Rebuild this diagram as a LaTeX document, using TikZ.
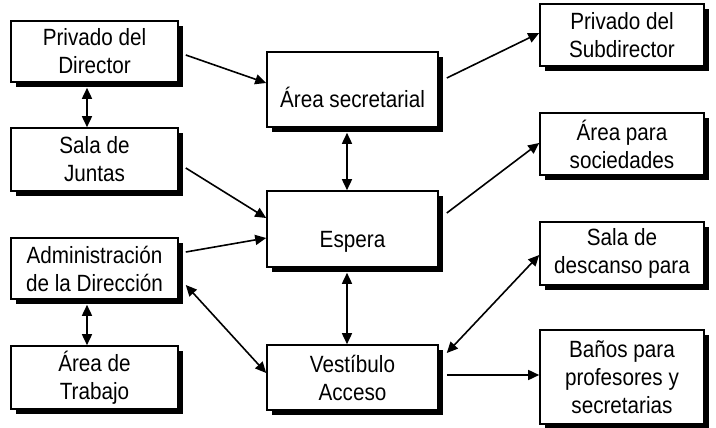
\documentclass[tikz,border=0pt]{standalone}
\usepackage{fontspec}
\setmainfont{Liberation Sans}[FakeStretch=0.88]
\usetikzlibrary{arrows.meta,shadows,calc}

\begin{document}
\begin{tikzpicture}[x=1pt,y=-1pt,
  room/.style={draw, line width=1.6pt, fill=white, rectangle, inner sep=0pt,
    align=center, font=\fontsize{23.5}{28}\selectfont,
    drop shadow={shadow xshift=5pt, shadow yshift=-5pt, fill=black, opacity=1}},
  col1/.style={room, minimum width=167pt},
  col2/.style={room, minimum width=171pt},
  col3/.style={room, minimum width=164pt},
  lowtext/.style={text height=37pt, text depth=0pt},
  tip/.tip={Triangle[length=11pt,width=10pt]},
  link/.style={line width=1.6pt, -tip},
  both/.style={line width=1.6pt, tip-tip}]

\useasboundingbox (0,0) rectangle (716,428);

% left column
\node[col1, minimum height=61pt] (pd) at (94.5,51.5) {Privado del\\Director};
\node[col1, minimum height=63pt] (sj) at (94.5,159.5) {Sala de\\Juntas};
\node[col1, minimum height=61pt] (ad) at (94.5,268.5) {Administración\\de la Dirección};
\node[col1, minimum height=63pt] (at) at (94.5,377.5) {Área de\\Trabajo};

% middle column
\node[col2, minimum height=75pt, lowtext] (as) at (352.5,89.5) {Área secretarial};
\node[col2, minimum height=76pt, lowtext] (es) at (352.5,229) {Espera};
\node[col2, minimum height=65pt] (vb) at (352.5,377.5) {Vestíbulo\\Acceso};

% right column
\node[col3, minimum height=62pt] (ps) at (622,35) {Privado del\\Subdirector};
\node[col3, minimum height=62pt] (ap) at (622,144) {Área para\\sociedades};
\node[col3, minimum height=63pt] (sd) at (622,253.5) {Sala de\\descanso para};
\node[col3, minimum height=94pt] (bp) at (622,377) {Baños para\\profesores y\\secretarias};

% vertical links
\draw[both] ($(pd.south)+(-7.5,5)$) -- ($(sj.north)+(-7.5,0)$);
\draw[both] ($(ad.south)+(-7.5,5)$) -- ($(at.north)+(-7.5,0)$);
\draw[both] ($(as.south)+(-5.5,5)$) -- ($(es.north)+(-5.5,0)$);
\draw[both] ($(es.south)+(-5.5,5)$) -- ($(vb.north)+(-5.5,0)$);

% left to middle
\draw[link] ($(pd.east)+(7,3.5)$) -- ($(as.west)+(0,-6.5)$);
\draw[link] ($(sj.east)+(7,8.5)$) -- ($(es.west)+(0,-11)$);
\draw[link] ($(ad.east)+(7,-16.5)$) -- ($(es.west)+(0,9)$);
\draw[both] ($(ad.east)+(7,16.5)$) -- ($(vb.west)+(0,-4.5)$);

% middle to right
\draw[link] ($(as.east)+(8,-11.5)$) -- ($(ps.west)+(0,-2)$);
\draw[link] ($(es.east)+(8,-16)$) -- ($(ap.west)+(0,-1)$);
\draw[both] ($(vb.east)+(8,-24.5)$) -- ($(sd.west)+(0,1.5)$);
\draw[link] ($(vb.east)+(8,-2.5)$) -- ($(bp.west)+(0,-2)$);
\end{tikzpicture}
\end{document}
